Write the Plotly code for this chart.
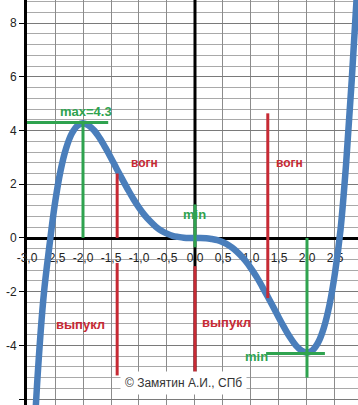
import plotly.graph_objects as go

# ---- data ----
curve_x = [-2.9, -2.8, -2.7, -2.6, -2.5, -2.4, -2.3, -2.2, -2.1, -2.0,
           -1.9, -1.8, -1.7, -1.6, -1.5, -1.4, -1.3, -1.2, -1.1, -1.0,
           -0.9, -0.8, -0.7, -0.6, -0.5, -0.4, -0.3, -0.2, -0.1, 0.0,
           0.1, 0.2, 0.3, 0.4, 0.5, 0.6, 0.7, 0.8, 0.9, 1.0,
           1.1, 1.2, 1.3, 1.4, 1.5, 1.6, 1.7, 1.8, 1.9, 2.0,
           2.1, 2.2, 2.3, 2.4, 2.5, 2.6, 2.7, 2.8, 2.9]
curve_y = [-8.5, -4.8, -2.1, -0.3, 1.3, 2.51, 3.35, 3.89, 4.18, 4.27,
           4.19, 4.0, 3.71, 3.36, 2.98, 2.58, 2.19, 1.81, 1.45, 1.13,
           0.85, 0.62, 0.42, 0.27, 0.16, 0.08, 0.04, 0.01, 0.0, 0.0,
           0.0, -0.01, -0.04, -0.08, -0.16, -0.27, -0.42, -0.62, -0.85, -1.13,
           -1.45, -1.81, -2.19, -2.58, -2.98, -3.36, -3.71, -4.0, -4.19, -4.27,
           -4.18, -3.89, -3.35, -2.51, -1.3, 0.33, 2.8, 5.9, 9.4]

x_ticks = [-3.0, -2.5, -2.0, -1.5, -1.0, -0.5, 0.0, 0.5, 1.0, 1.5, 2.0, 2.5]
x_tick_labels = ["-3,0", "-2,5", "-2,0", "-1,5", "-1,0", "-0,5", "0,0",
                 "0,5", "1,0", "1,5", "2,0", "2,5"]
y_ticks = [-6, -4, -2, 0, 2, 4, 6, 8]
y_tick_labels = ["-6", "-4", "-2", "0", "2", "4", "6", "8"]

# extrema and inflection markers
max_point = (-2.0, 4.3)
min_point = (2.0, -4.3)
max_hline_x = [-3.05, -1.55]
min_hline_x = [1.27, 2.32]
min_vline_y = [0.0, -5.2]
zero_green_y = [1.25, -0.35]
zero_red_y = [-1.05, -5.1]
zero_black_y = [8.9, -5.2]
left_infl_x = -1.39
left_infl_up_y = [2.4, 0.0]
left_infl_down_y = [-0.93, -5.12]
right_infl_x = 1.3
right_infl_y = [4.64, -2.24]

X_MIN, X_MAX = -3.0, 2.911
Y_MIN, Y_MAX = -6.22, 8.86

BLUE = "#4a7ebb"
GREEN = "#2fa34f"
RED = "#c72a34"
FONT = "Arial, Liberation Sans, sans-serif"

fig = go.Figure()


def seg(xs, ys, color, width):
    fig.add_trace(go.Scatter(x=xs, y=ys, mode="lines",
                             line=dict(color=color, width=width),
                             hoverinfo="skip", showlegend=False))


# black vertical line at x = 0
seg([0, 0], zero_black_y, "black", 3)

# main curve
fig.add_trace(go.Scatter(x=curve_x, y=curve_y, mode="lines",
                         line=dict(color=BLUE, width=6.5, shape="spline"),
                         showlegend=False))

# green markers of extrema
seg(max_hline_x, [max_point[1]] * 2, GREEN, 3)
seg([max_point[0]] * 2, [max_point[1], 0], GREEN, 3)
seg(min_hline_x, [min_point[1]] * 2, GREEN, 3)
seg([min_point[0]] * 2, min_vline_y, GREEN, 3)
seg([0, 0], zero_green_y, GREEN, 3)

# red inflection markers
seg([left_infl_x] * 2, left_infl_up_y, RED, 3)
seg([left_infl_x] * 2, left_infl_down_y, RED, 3)
seg([0, 0], zero_red_y, RED, 3)
seg([right_infl_x] * 2, right_infl_y, RED, 3)

labels = [
    ("max=4.3", -1.95, 4.69, GREEN, 13),
    ("min", 0.0, 0.89, GREEN, 13),
    ("min", 1.09, -4.43, GREEN, 13),
    ("вогн", -0.91, 2.79, RED, 12),
    ("вогн", 1.68, 2.79, RED, 12),
    ("выпукл", -2.04, -3.24, RED, 13),
    ("выпукл", 0.56, -3.13, RED, 13),
]
for text, lx, ly, col, size in labels:
    fig.add_annotation(x=lx, y=ly, text="<b>%s</b>" % text, showarrow=False,
                       font=dict(family=FONT, size=size, color=col))

fig.add_annotation(x=-0.21, y=-5.4, text="© Замятин А.И., СПб",
                   showarrow=False, bgcolor="white", borderpad=4,
                   xanchor="center", yanchor="middle",
                   font=dict(family=FONT, size=12, color="#333333"))

# partially visible last x label
fig.add_annotation(x=3.0, y=0, yshift=-17, text="3,0", showarrow=False,
                   font=dict(family=FONT, size=12, color="#222222"))

xpos = (0 - Y_MIN) / (Y_MAX - Y_MIN)

fig.update_layout(
    width=358, height=405,
    margin=dict(l=27, r=0, t=0, b=0, autoexpand=False),
    paper_bgcolor="white", plot_bgcolor="white",
    font=dict(family=FONT, size=12, color="#222222"),
    xaxis=dict(range=[X_MIN, X_MAX], tickmode="array", tickvals=x_ticks,
               ticktext=x_tick_labels, showgrid=True, gridcolor="#8c8c8c",
               gridwidth=1, zeroline=False, showline=True, linecolor="black",
               linewidth=3, anchor="free", position=xpos, ticks="outside",
               ticklen=8, tickcolor="rgba(0,0,0,0)", layer="below traces",
               automargin=False,
               tickfont=dict(size=12, color="#222222")),
    yaxis=dict(range=[Y_MIN, Y_MAX], tickmode="array", tickvals=y_ticks,
               ticktext=y_tick_labels, showgrid=True, gridcolor="#7a7a7a",
               gridwidth=1, zeroline=False, showline=True, linecolor="black",
               linewidth=3, ticks="outside", ticklen=5, tickcolor="black",
               tickwidth=1, layer="below traces", automargin=False,
               minor=dict(tickmode="linear", tick0=0, dtick=0.4,
                          showgrid=True, gridcolor="#a9a9a9", gridwidth=1,
                          ticks=""),
               tickfont=dict(size=12, color="#222222")),
)

fig.write_html("out.html",
               config={"displayModeBar": False},
               post_script="document.body.style.margin='0';"
                           "document.body.style.overflow='hidden';")
